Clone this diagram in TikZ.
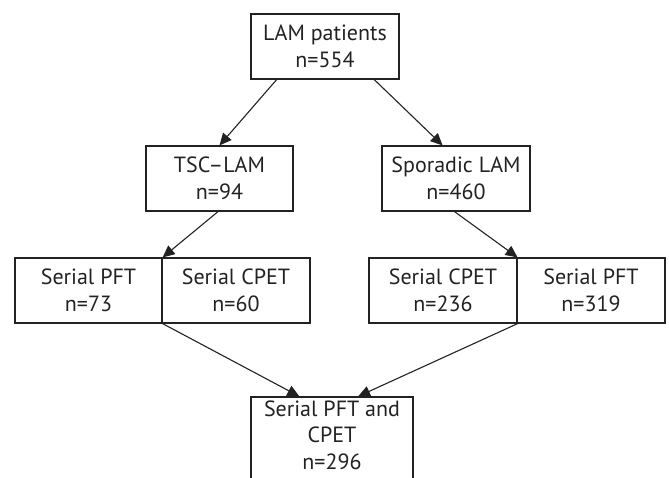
\documentclass[tikz,border=0pt]{standalone}
\usepackage{fontspec}
\setmainfont{PT Sans}
\usetikzlibrary{arrows.meta,calc}
\definecolor{ink}{HTML}{222222}
\tikzset{
  box/.style={draw=ink, line width=1.2pt, align=center, inner sep=0pt,
    minimum height=65pt, text=ink,
    font=\fontsize{22pt}{26.5pt}\selectfont},
  link/.style={draw=ink, line width=1.1pt, -{Triangle[length=12pt,width=11pt]}}
}
\begin{document}
\begin{tikzpicture}[x=1pt,y=-1pt]
\useasboundingbox (0,0) rectangle (669,477);
\clip (0,0) rectangle (669,477);
\node[box, minimum width=148pt] (top) at (325,46.5) {LAM patients\\n=554};
\node[box, minimum width=147pt] (tsc) at (219.5,178.5) {TSC–LAM\\n=94};
\node[box, minimum width=148pt] (spor) at (456,178.5) {Sporadic LAM\\n=460};
\node[box, minimum width=147pt] (pftA) at (88.5,290.5) {Serial PFT\\n=73};
\node[box, minimum width=148pt] (cpetA) at (236,290.5) {Serial CPET\\n=60};
\node[box, minimum width=148pt] (cpetB) at (443,290.5) {Serial CPET\\n=236};
\node[box, minimum width=148pt] (pftB) at (591,290.5) {Serial PFT\\n=319};
\node[box, minimum width=162pt, minimum height=86pt, text depth=10pt] (both) at (332,440) {Serial PFT and\\CPET\\n=296};
\draw[link] ($(top.south west)!0.176!(top.south east)$) -- ($(tsc.north west)!0.5!(tsc.north east)$);
\draw[link] ($(top.south west)!0.83!(top.south east)$) -- ($(spor.north west)!0.41!(spor.north east)$);
\draw[link] ($(tsc.south west)!0.49!(tsc.south east)$) -- (pftA.north east);
\draw[link] ($(spor.south west)!0.49!(spor.south east)$) -- (cpetB.north east);
\draw[link] (pftA.south east) -- ($(both.north west)!0.30!(both.north east)$);
\draw[link] (cpetB.south east) -- ($(both.north west)!0.66!(both.north east)$);
\end{tikzpicture}
\end{document}
